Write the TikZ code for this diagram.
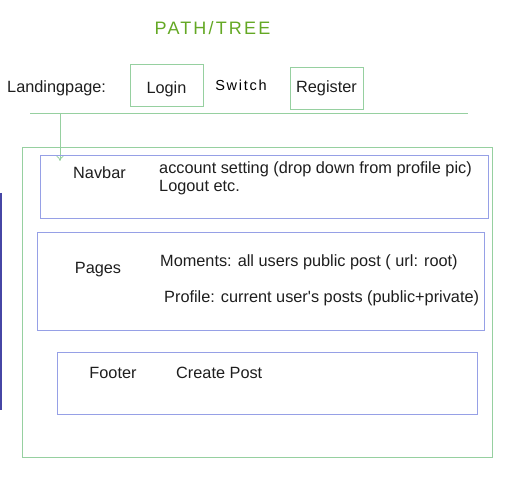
\documentclass[tikz,border=0pt]{standalone}
\usepackage{fontspec}
\setmainfont{Liberation Sans}
\newfontfamily\handfont[LetterSpace=12]{Liberation Sans}
\usetikzlibrary{positioning,arrows.meta}

\definecolor{boxgreen}{RGB}{150,208,160}
\definecolor{boxblue}{RGB}{150,160,230}
\definecolor{sidebar}{RGB}{70,70,165}
\definecolor{titlegreen}{RGB}{100,168,36}
\definecolor{txtgray}{RGB}{30,30,30}

\begin{document}
\begin{tikzpicture}[x=1pt, y=-1pt,
    every node/.style={font=\fontsize{16.3}{18}\selectfont, text=txtgray, inner sep=0},
    greenbox/.style={draw=boxgreen, line width=0.8pt},
    bluebox/.style={draw=boxblue, line width=0.8pt},
    hand/.style={font=\handfont\fontsize{14.5}{15}\selectfont, text=black}]
  \useasboundingbox (0,0) rectangle (507,484);

  \node[hand, font=\handfont\fontsize{18}{18}\selectfont, text=titlegreen] (title) at (212.5,28) {PATH/TREE};

  % Landingpage
  \node[anchor=west] (landing) at (7,88) {Landingpage:};
  \node[greenbox, minimum width=73, minimum height=42, text height=17, text depth=0] (login) at (166.5,85) {Login};
  \node[hand] (switch) at (241,85) {Switch};
  \node[greenbox, minimum width=73, minimum height=42] (register) at (326.5,88) {Register};

  \coordinate (rulestart) at (30,113);
  \coordinate (ruleend) at (468,113);
  \coordinate (arrowtop) at (60,113);
  \coordinate (arrowend) at (60,161);
  \draw[boxgreen, line width=0.8pt] (rulestart) -- (ruleend);
  \draw[boxgreen, line width=0.8pt, -{To[length=5pt, width=7pt]}] (arrowtop) -- (arrowend);

  \draw[sidebar, line width=1.5pt] (1,193) -- (1,410);

  % App
  \node[greenbox, minimum width=470, minimum height=310] (app) at (257,302) {};

  \node[bluebox, minimum width=448, minimum height=63] (navbar) at (264,186.5) {};
  \node (navbartxt) at (99.5,172.5) {Navbar};
  \node[anchor=north west, align=left] (navinfo) at (159,161.5) {account setting (drop down from profile pic)\\Logout etc.};

  \node[bluebox, minimum width=447, minimum height=98] (pages) at (260.5,281) {};
  \node (pagestxt) at (98,270) {Pages};
  \node[anchor=west] (moments) at (160,262.5) {Moments: all users public post ( url: root)};
  \node[anchor=west] (profile) at (164,298.5) {Profile: current user\textquotesingle s posts (public+private)};

  \node[bluebox, minimum width=420, minimum height=62] (footer) at (267,383) {};
  \node (footertxt) at (113,373) {Footer};
  \node[anchor=west] (createpost) at (176,373) {Create Post};

\end{tikzpicture}
\end{document}
